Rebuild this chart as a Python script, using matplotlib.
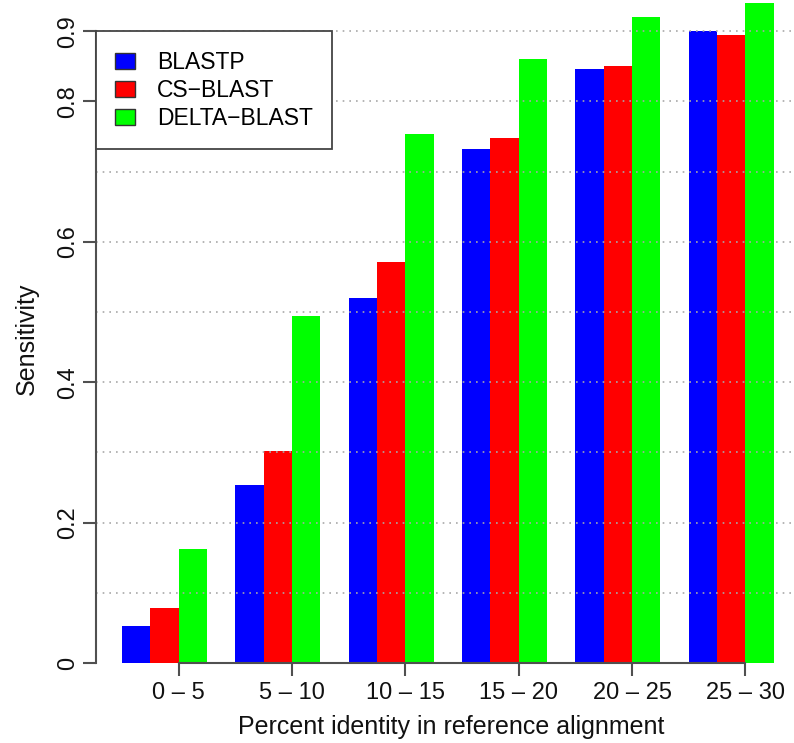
import matplotlib
matplotlib.use("Agg")
import matplotlib.pyplot as plt
from matplotlib.patches import Patch
import numpy as np

plt.rcParams['font.family'] = ['Liberation Sans', 'DejaVu Sans']

categories = ["0 – 5", "5 – 10", "10 – 15", "15 – 20", "20 – 25", "25 – 30"]
series_names = ["BLASTP", "CS−BLAST", "DELTA−BLAST"]
blastp = [0.053, 0.253, 0.520, 0.732, 0.846, 0.900]
csblast = [0.079, 0.302, 0.571, 0.748, 0.850, 0.894]
deltablast = [0.162, 0.495, 0.754, 0.860, 0.920, 0.940]
colors = ["#0000FF", "#FF0000", "#00FF00"]
y_ticks = [0, 0.2, 0.4, 0.6, 0.8, 0.9]
y_tick_labels = ["0", "0.2", "0.4", "0.6", "0.8", "0.9"]

W, H = 794, 743
fig = plt.figure(figsize=(W / 100, H / 100), dpi=100)
ax = fig.add_axes([96 / W, 80 / H, (W - 96) / W, 663 / H])

n = len(categories)
group_left = 1 + 4 * np.arange(n)
for i, vals in enumerate([blastp, csblast, deltablast]):
    ax.bar(group_left + i, vals, width=1.0, align='edge', color=colors[i],
           edgecolor='none', linewidth=0, zorder=2, label=series_names[i])

ax.set_xlim(0.08, 0.08 + (W - 96) / 28.33)
ax.set_ylim(0, 663 / 702.0)

# dotted grid on top of bars
for g in np.arange(1, 10) / 10:
    ax.axhline(g, color='#a8a8a8', linestyle=(0, (1, 3)), linewidth=1.2, zorder=3)

axis_col = '#505050'
for s in ['top', 'right']:
    ax.spines[s].set_visible(False)
ax.spines['left'].set_bounds(0, 0.9)
ax.spines['bottom'].set_bounds(group_left[0] + 2, group_left[-1] + 2)
for s in ['left', 'bottom']:
    ax.spines[s].set_color(axis_col)
    ax.spines[s].set_linewidth(1.5)
    ax.spines[s].set_zorder(4)

ax.set_yticks(y_ticks)
ax.set_yticklabels(y_tick_labels, rotation=90, va='center')
ax.set_xticks(group_left + 2)
ax.set_xticklabels(categories)
ax.tick_params(axis='y', length=9.4, width=1.5, color=axis_col, pad=3,
               labelsize=17, labelcolor='#111111')
ax.tick_params(axis='x', length=9.4, width=1.5, color=axis_col, pad=4,
               labelsize=17, labelcolor='#111111')

ax.set_xlabel("Percent identity in reference alignment", fontsize=18, color='#111111')
ax.xaxis.set_label_coords((451 - 96) / 698, -0.079)
ax.set_ylabel("Sensitivity", fontsize=18, color='#111111')
ax.yaxis.set_label_coords((38.5 - 96) / 698, 0.4887)

handles = [Patch(facecolor=c, edgecolor='#333333', linewidth=1.0) for c in colors]
leg = ax.legend(handles, series_names, loc='upper left',
                bbox_to_anchor=(0.08, 0.9), bbox_transform=ax.transData,
                borderaxespad=0, fontsize=16.5, frameon=True, fancybox=False,
                edgecolor='#444444', framealpha=1, borderpad=0.85,
                labelspacing=0.22, handlelength=0.85, handleheight=0.7,
                handletextpad=0.96)
leg.get_frame().set_linewidth(1.3)
leg.set_zorder(5)

fig.savefig("out.png", dpi=100)
